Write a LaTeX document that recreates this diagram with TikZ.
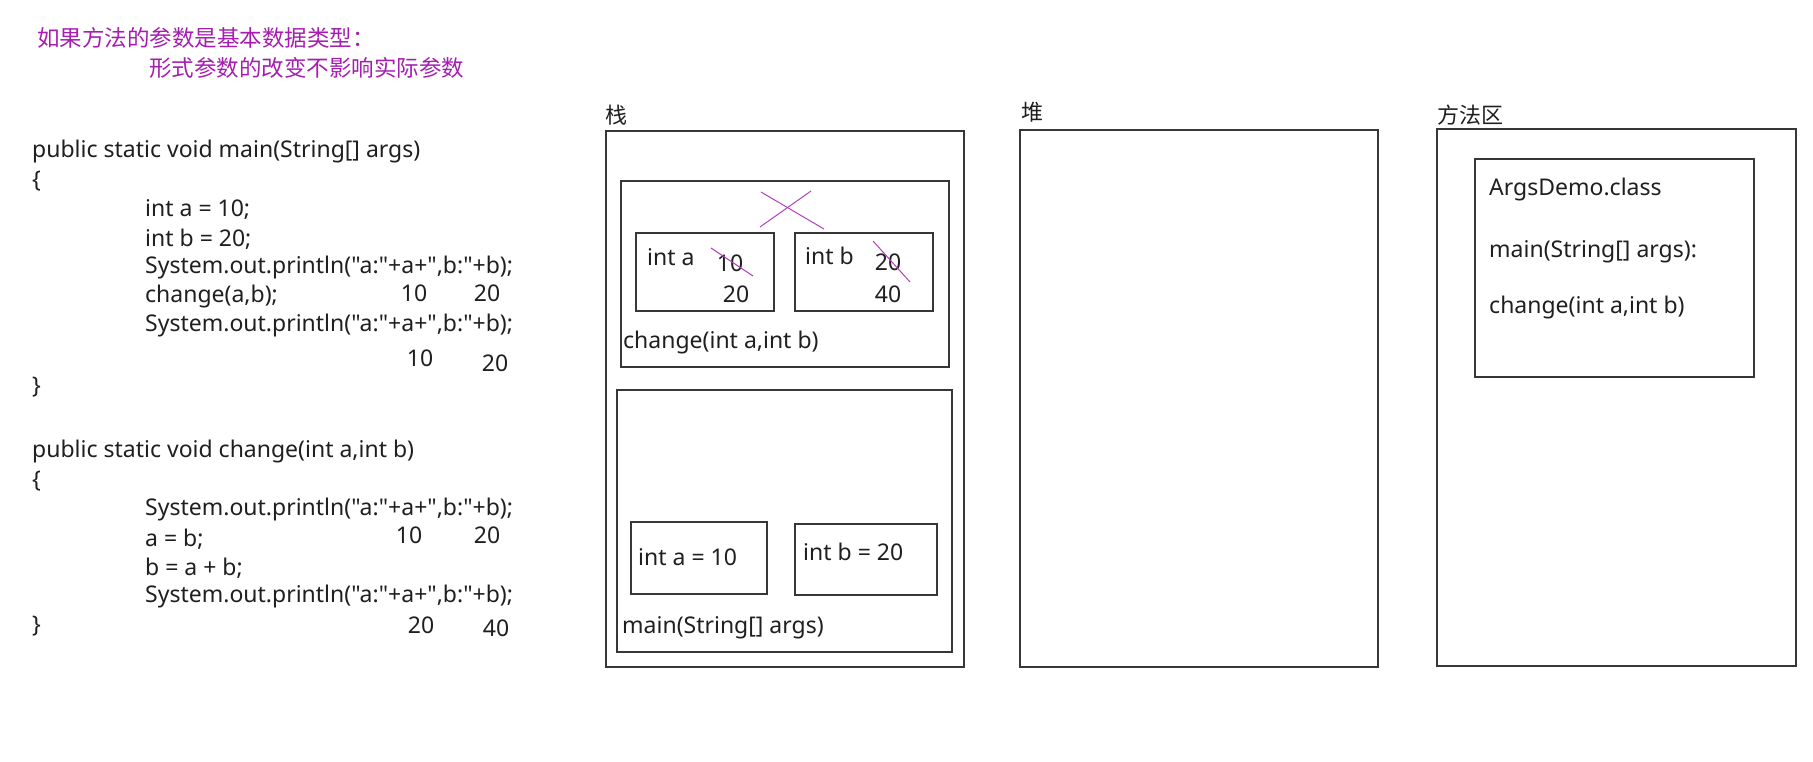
\documentclass[tikz,border=0pt]{standalone}
\usepackage{fontspec}
\setmainfont{Noto Sans}[Ligatures=TeXOff]
\newfontfamily\cjk{Noto Sans CJK SC}
\usetikzlibrary{fit}
\definecolor{notepurple}{RGB}{165,30,175}
\definecolor{framegray}{RGB}{55,55,55}
\tikzset{
  txt/.style={anchor=west,inner sep=0pt,text=black!88,font=\fontsize{23}{27}\selectfont},
  num/.style={inner sep=0pt,text=black!88,font=\fontsize{23}{27}\selectfont},
  note/.style={anchor=west,inner sep=0pt,text=notepurple,font=\cjk\fontsize{22.5}{26}\selectfont},
  areaname/.style={anchor=west,inner sep=0pt,text=black!88,font=\cjk\fontsize{22}{26}\selectfont},
  area/.style={draw=framegray,line width=1.6pt,inner sep=0pt},
  frame/.style={draw=framegray,line width=1.4pt,inner sep=0pt},
  strike/.style={draw=notepurple!85,line width=1pt}
}
\begin{document}
\begin{tikzpicture}[x=1pt,y=-1pt]
\useasboundingbox (0,0) rectangle (1813,762);
% note at the top
\node[note] (note1) at (37,38) {如果方法的参数是基本数据类型：};
\node[note] (note2) at (149,68) {形式参数的改变不影响实际参数};

% code of main
\node[txt] (m0) at (32,152) {public static void main(String[] args)};
\node[txt] (m1) at (32,181) {\{};
\node[txt] (m2) at (145,210) {int a = 10;};
\node[txt] (m3) at (145,239) {int b = 20;};
\node[txt] (m4) at (145,268) {System.out.println("a:"+a+",b:"+b);};
\node[txt] (m5) at (145,297) {change(a,b);};
\node[txt] (m6) at (145,326) {System.out.println("a:"+a+",b:"+b);};
\node[txt] (m7) at (32,387) {\}};
\node[num] (m5a) at (414,293) {10};
\node[num] (m5b) at (487,293) {20};
\node[num] (m6a) at (420,358) {10};
\node[num] (m6b) at (495,363) {20};

% code of change
\node[txt] (c0) at (32,452) {public static void change(int a,int b)};
\node[txt] (c1) at (32,481) {\{};
\node[txt] (c2) at (145,510) {System.out.println("a:"+a+",b:"+b);};
\node[txt] (c3) at (145,539) {a = b;};
\node[txt] (c4) at (145,568) {b = a + b;};
\node[txt] (c5) at (145,597) {System.out.println("a:"+a+",b:"+b);};
\node[txt] (c6) at (32,626) {\}};
\node[num] (c3a) at (409,535) {10};
\node[num] (c3b) at (487,535) {20};
\node[num] (c6a) at (421,625) {20};
\node[num] (c6b) at (496,628) {40};

% stack
\node[areaname] (stackname) at (605,115) {栈};
\node[area,fit={(606,131) (964,667)}] (stack) {};
\node[frame,fit={(621,181) (949,367)}] (changeframe) {};
\node[frame,fit={(636,233) (774,311)}] (ca) {};
\node[frame,fit={(795,233) (933,311)}] (cb) {};
\node[txt] (catxt) at (647,257) {int a};
\node[num] (caold) at (730,263) {10};
\node[num] (canew) at (736,294) {20};
\node[txt] (cbtxt) at (805,256) {int b};
\node[num] (cbold) at (888,262) {20};
\node[num] (cbnew) at (888,294) {40};
\node[txt] (changename) at (623,343) {change(int a,int b)};
\draw[strike] (711,248) -- (753,276);
\draw[strike] (873,241) -- (910,282);
\draw[strike] (761,192) -- (824,229);
\draw[strike] (760,227) -- (811,191);

\node[frame,fit={(617,390) (952,652)}] (mainframe) {};
\node[frame,fit={(631,522) (767,594)}] (ma) {};
\node[frame,fit={(795,524) (937,595)}] (mb) {};
\node[txt] (matxt) at (638,557) {int a = 10};
\node[txt] (mbtxt) at (803,552) {int b = 20};
\node[txt] (mainname) at (622,628) {main(String[] args)};

% heap
\node[areaname] (heapname) at (1021,112) {堆};
\node[area,fit={(1020,130) (1378,667)}] (heap) {};

% method area
\node[areaname] (methodname) at (1437,115) {方法区};
\node[area,fit={(1437,129) (1796,666)}] (method) {};
\node[frame,fit={(1475,159) (1754,377)}] (classbox) {};
\node[txt] (cls) at (1489,190) {ArgsDemo.class};
\node[txt] (clsmain) at (1489,252) {main(String[] args):};
\node[txt] (clschange) at (1489,308) {change(int a,int b)};
\end{tikzpicture}
\end{document}
